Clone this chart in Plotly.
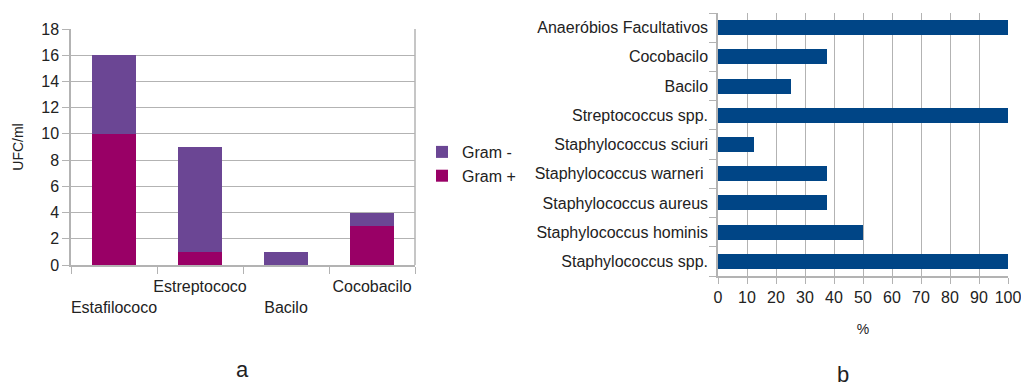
import plotly.graph_objects as go

# Left chart data
categories_a = ["Estafilococo", "Estreptococo", "Bacilo", "Cocobacilo"]
tick_labels_a = ["<br>Estafilococo", "Estreptococo", "<br>Bacilo", "Cocobacilo"]
gram_pos = [10, 1, 0, 3]
gram_neg = [6, 8, 1, 1]
y_ticks_a = [0, 2, 4, 6, 8, 10, 12, 14, 16, 18]

# Right chart data
categories_b = ["Staphylococcus spp.", "Staphylococcus hominis", "Staphylococcus aureus",
                "Staphylococcus warneri ", "Staphylococcus sciuri", "Streptococcus spp.",
                "Bacilo", "Cocobacilo", "Anaeróbios Facultativos"]
percent_b = [100, 50, 37.5, 37.5, 12.5, 100, 25, 37.5, 100]
x_ticks_b = [0, 10, 20, 30, 40, 50, 60, 70, 80, 90, 100]

W, H = 1021, 387
FONT = "Liberation Sans, Arial, sans-serif"
TXT = "#222222"
GRID = "#b3b3b3"

fig = go.Figure()
fig.add_trace(go.Bar(x=categories_a, y=gram_pos, name="Gram +", marker_color="#990066",
                     marker_line_width=0, xaxis="x", yaxis="y"))
fig.add_trace(go.Bar(x=categories_a, y=gram_neg, name="Gram -", marker_color="#6b4694",
                     marker_line_width=0, xaxis="x", yaxis="y"))
fig.add_trace(go.Bar(y=categories_b, x=percent_b, orientation="h", marker_color="#004586",
                     marker_line_width=0, showlegend=False, xaxis="x2", yaxis="y2"))

def px_dom_x(a, b):
    return [a / W, b / W]

def px_dom_y(top, bottom):
    return [(H - bottom) / H, (H - top) / H]

fig.update_layout(
    width=W, height=H,
    margin=dict(l=0, r=0, t=0, b=0, autoexpand=False),
    paper_bgcolor="white", plot_bgcolor="white",
    barmode="stack", bargap=0.49,
    font=dict(family=FONT, size=16, color=TXT),
    legend=dict(x=422 / W, y=(H - 135) / H, xanchor="left", yanchor="top",
                traceorder="reversed", font=dict(size=16), itemwidth=30,
                tracegroupgap=0, bgcolor="rgba(0,0,0,0)"),
    xaxis=dict(domain=px_dom_x(71, 415), anchor="y", type="category",
               tickmode="array", tickvals=categories_a, ticktext=tick_labels_a,
               tickangle=0, automargin=False, ticklabelstandoff=6,
               tickson="boundaries", ticks="outside", ticklen=7, tickcolor=GRID,
               showline=True, linecolor=GRID, linewidth=1.5, showgrid=False,
               mirror=False, tickfont=dict(size=16), fixedrange=True),
    yaxis=dict(domain=px_dom_y(29, 265), anchor="x", range=[0, 18], automargin=False,
               tickvals=y_ticks_a, ticks="outside", ticklen=7, tickcolor=GRID,
               showline=True, linecolor=GRID, linewidth=1.5,
               showgrid=True, gridcolor=GRID, gridwidth=1.2, zeroline=False,
               ticklabeloverflow="allow",
               title=dict(text="UFC/ml", font=dict(size=14), standoff=14),
               tickfont=dict(size=16)),
    xaxis2=dict(domain=px_dom_x(718, 1008), anchor="y2", range=[0, 100], automargin=False,
                tickvals=x_ticks_b, ticks="outside", ticklen=6, tickcolor=GRID,
                showline=True, linecolor=GRID, linewidth=1.5,
                showgrid=True, gridcolor=GRID, gridwidth=1.2, zeroline=False,
                ticklabeloverflow="allow",
                title=dict(text="%", font=dict(size=14), standoff=19),
                tickfont=dict(size=16)),
    yaxis2=dict(domain=px_dom_y(13, 276), anchor="x2", type="category", automargin=False,
                tickson="boundaries", ticks="outside", ticklen=7, tickcolor=GRID,
                ticklabelstandoff=5,
                showline=True, linecolor=GRID, linewidth=1.5, showgrid=False,
                tickfont=dict(size=16)),
    annotations=[
        dict(text="a", x=242 / W, y=(H - 369) / H, xref="paper", yref="paper",
             xanchor="center", yanchor="middle", borderpad=0,
             showarrow=False, font=dict(size=22, color=TXT)),
        dict(text="b", x=843 / W, y=(H - 374) / H, xref="paper", yref="paper",
             xanchor="center", yanchor="middle", borderpad=0,
             showarrow=False, font=dict(size=22, color=TXT)),
    ],
)

# vertical right border on left chart
fig.add_shape(type="line", xref="x domain", yref="y domain", x0=1, x1=1, y0=0, y1=1,
              line=dict(color=GRID, width=1.5))

fig.write_html("out.html")
